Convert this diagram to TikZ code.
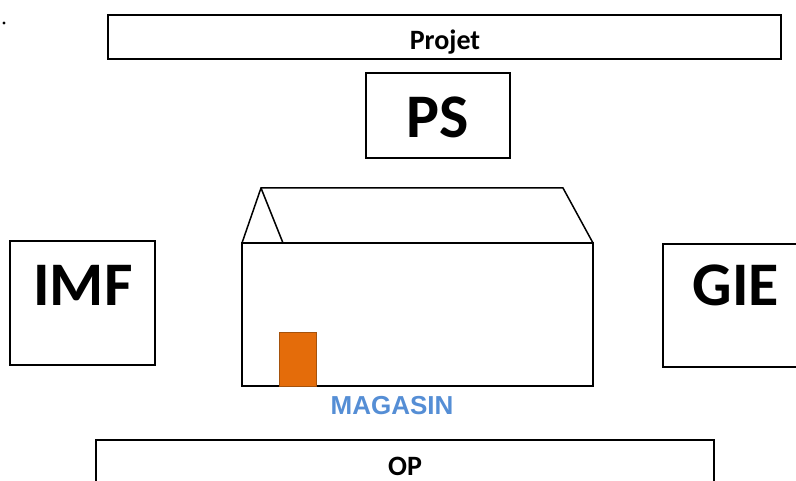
\documentclass[tikz,border=0pt]{standalone}
\usepackage{fontspec}
\setmainfont{Carlito}
\newfontfamily\arialfont{Liberation Sans}
\usetikzlibrary{positioning}
\definecolor{doororange}{HTML}{E46C0A}
\definecolor{doorline}{HTML}{A5520C}
\definecolor{shopblue}{HTML}{558ED5}
\begin{document}
\begin{tikzpicture}[x=1pt,y=-1pt,line width=1.5pt,
 box/.style={draw,rectangle,inner sep=0pt,outer sep=0pt,anchor=north west},
 big/.style={font=\fontsize{62}{62}\selectfont\bfseries,anchor=base},
 small/.style={font=\fontsize{28}{28}\selectfont\bfseries,anchor=base,inner sep=0pt}]
 \clip (0,0) rectangle (796,481);
 \fill (4,23) circle (1.7);
 \node[box,minimum width=673pt,minimum height=44pt] (projetbox) at (108,15) {};
 \node[small] (projet) at (445,50) {Projet};
 \node[box,minimum width=144pt,minimum height=85pt] (psbox) at (366,73) {};
 \node[big] (ps) at (438,138) {PS};
 \node[box,minimum width=145pt,minimum height=124pt] (imfbox) at (10,241) {};
 \node[big] (imf) at (83,306) {IMF};
 \node[box,minimum width=160pt,minimum height=123pt] (giebox) at (663,244) {};
 \node[big] (gie) at (736,306) {GIE};
 \node[box,minimum width=351pt,minimum height=143pt] (walls) at (242,243) {};
 \coordinate (peak) at (261,188);
 \coordinate (ridge) at (563,188);
 \coordinate (gablefoot) at (283,243);
 \draw (walls.north west) -- (peak) -- (ridge) -- (walls.north east);
 \draw (peak) -- (gablefoot);
 \node[box,line width=1pt,draw=doorline,fill=doororange,minimum width=37pt,minimum height=53pt] (door) at (279,333) {};
 \node[anchor=base,text=shopblue,font=\arialfont\fontsize{26}{26}\selectfont\bfseries] (magasin) at (392,414) {MAGASIN};
 \node[box,minimum width=618pt,minimum height=60pt] (opbox) at (96,440) {};
 \node[small] (op) at (405,475) {OP};
\end{tikzpicture}
\end{document}
